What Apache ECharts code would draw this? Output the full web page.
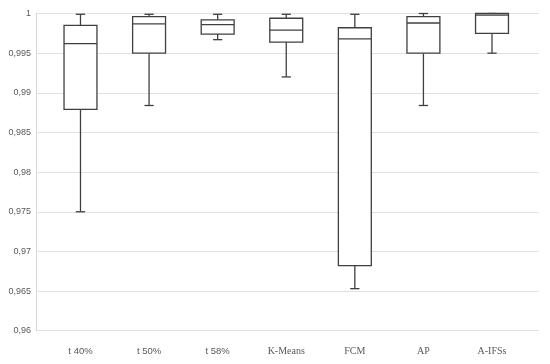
<!DOCTYPE html>
<html>
<head>
<meta charset="utf-8">
<script src="https://cdn.jsdelivr.net/npm/echarts@6/dist/echarts.min.js"></script>
<style>html,body{margin:0;padding:0;background:#fff}#c{width:550px;height:364px}</style>
</head>
<body>
<div id="c"></div>
<script>
const categories = ['t 40%', 't 50%', 't 58%', 'K-Means', 'FCM', 'AP', 'A-IFSs'];
const mins    = [0.9750, 0.9884, 0.9967, 0.9920, 0.9653, 0.9884, 0.9950];
const q1s     = [0.9879, 0.9950, 0.9974, 0.9964, 0.9682, 0.9950, 0.9975];
const medians = [0.9962, 0.9987, 0.9986, 0.9979, 0.9968, 0.9988, 0.9998];
const q3s     = [0.9985, 0.9996, 0.9992, 0.9994, 0.9982, 0.9996, 1.0000];
const maxs    = [0.9999, 0.9999, 0.9999, 0.9999, 0.9999, 1.0000, 1.0000];
const yTicks  = [0.96, 0.965, 0.97, 0.975, 0.98, 0.985, 0.99, 0.995, 1];

const data = categories.map((c, i) => [i, mins[i], q1s[i], medians[i], q3s[i], maxs[i]]);
const LC = '#404040';

const chart = echarts.init(document.getElementById('c'), null, {renderer: 'canvas'});
chart.setOption({
  animation: false,
  backgroundColor: '#fff',
  grid: [
    {left: 36, right: 11, top: 13.5, bottom: 33.3},
    {left: 46.2, right: 23.7, top: 13.5, bottom: 33.3}
  ],
  xAxis: [
    {gridIndex: 0, type: 'value', min: 0, max: 1, show: false},
    {gridIndex: 1, type: 'category', data: categories,
     axisLine: {show: false}, axisTick: {show: false}, splitLine: {show: false},
     axisLabel: {interval: 0, hideOverlap: false, margin: 16, color: '#595959',
       formatter: v => v.startsWith('t ') ? '{s|' + v + '}' : '{r|' + v + '}',
       rich: {
         s: {fontFamily: 'Liberation Sans', fontSize: 9.5, color: '#595959'},
         r: {fontFamily: 'Liberation Serif', fontSize: 10, color: '#595959'}
       }}}
  ],
  yAxis: [
    {gridIndex: 0, type: 'value', min: yTicks[0], max: yTicks[yTicks.length - 1], interval: 0.005,
     axisLine: {show: true, lineStyle: {color: '#d9d9d9', width: 1}},
     axisTick: {show: false},
     splitLine: {show: true, lineStyle: {color: '#e0e0e0', width: 1}},
     axisLabel: {margin: 5, color: '#595959', fontFamily: 'Liberation Sans', fontSize: 9,
       formatter: v => String(+v.toFixed(3)).replace('.', ',')}},
    {gridIndex: 1, type: 'value', min: yTicks[0], max: yTicks[yTicks.length - 1], show: false}
  ],
  series: [{
    type: 'custom',
    xAxisIndex: 1, yAxisIndex: 1,
    data: data,
    clip: false,
    renderItem: function (params, api) {
      const x = api.value(0);
      const band = api.size([1, 0])[0];
      const bw = band * 0.48, cw = band * 0.135;
      const pMin = api.coord([x, api.value(1)]);
      const pQ1 = api.coord([x, api.value(2)]);
      const pMed = api.coord([x, api.value(3)]);
      const pQ3 = api.coord([x, api.value(4)]);
      const pMax = api.coord([x, api.value(5)]);
      const cx = pMin[0];
      const ls = {stroke: LC, lineWidth: 1.3, fill: null};
      const line = (x1, y1, x2, y2) => ({type: 'line', shape: {x1, y1, x2, y2}, style: ls});
      return {
        type: 'group',
        children: [
          line(cx, pMax[1], cx, pQ3[1]),
          line(cx - cw / 2, pMax[1], cx + cw / 2, pMax[1]),
          line(cx, pQ1[1], cx, pMin[1]),
          line(cx - cw / 2, pMin[1], cx + cw / 2, pMin[1]),
          {type: 'rect', shape: {x: cx - bw / 2, y: pQ3[1], width: bw, height: pQ1[1] - pQ3[1]},
           style: {fill: '#fff', stroke: LC, lineWidth: 1.3}},
          line(cx - bw / 2, pMed[1], cx + bw / 2, pMed[1])
        ]
      };
    }
  }]
});
</script>
</body>
</html>
